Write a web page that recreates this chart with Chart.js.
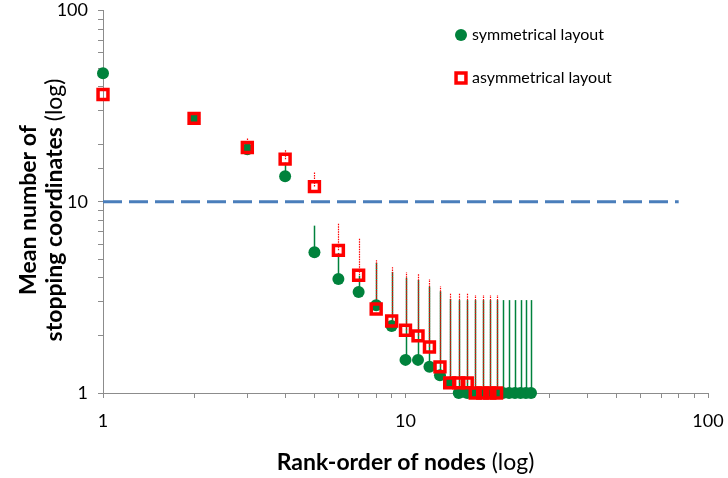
<!DOCTYPE html>
<html>
<head>
<meta charset="utf-8">
<script src="https://cdn.jsdelivr.net/npm/chart.js@4.4.1/dist/chart.umd.min.js"></script>
<style>
  html, body { margin: 0; padding: 0; background: #fff; }
  #c { display: block; }
</style>
</head>
<body>
<canvas id="c" width="728" height="478"></canvas>
<script>
/* ── ข้อมูลที่อ่านจากภาพ ── */
const symRanks = [1, 2, 3, 4, 5, 6, 7, 8, 9, 10, 11, 12, 13, 14, 15, 16, 17, 18, 19, 20, 21, 22, 23, 24, 25, 26];
const symMeans = [47, 27.3, 18.8, 13.6, 5.45, 3.94, 3.37, 2.88, 2.24, 1.49, 1.49, 1.37, 1.24, 1.13, 1, 1, 1, 1, 1, 1, 1, 1, 1, 1, 1, 1];
const symUpper = [47, 27.3, 19.3, 16, 7.5, 5.4, 4.1, 4.8, 4.3, 4.0, 3.9, 3.6, 3.4, 3.1, 3.06, 3.06, 3.06, 3.06, 3.06, 3.06, 3.06, 3.06, 3.06, 3.06, 3.06, 3.06];

const asymRanks = [1, 2, 3, 4, 5, 6, 7, 8, 9, 10, 11, 12, 13, 14, 15, 16, 17, 18, 19, 20];
const asymMeans = [36.4, 27.3, 19.2, 16.7, 12.0, 5.57, 4.13, 2.75, 2.38, 2.13, 1.99, 1.74, 1.37, 1.13, 1.13, 1.13, 1, 1, 1, 1];
const asymUpper = [36.4, 28, 21.5, 18.8, 14.3, 7.7, 6.4, 4.95, 4.55, 4.28, 4.18, 3.94, 3.62, 3.33, 3.33, 3.33, 3.25, 3.25, 3.25, 3.25];

const thresholdValue = 10;
const thresholdRange = [1, 80];

const seriesNames = ['symmetrical layout', 'asymmetrical layout'];
const xTitle = ['Rank-order of nodes', ' (log)'];
const yTitle = [['Mean number of'], ['stopping coordinates', ' (log)']];

(function () {

  const GREEN = '#00823C';
  const RED = '#FF0000';
  const AXIS = '#8C8C8C';
  const FONT = 'Lato, "Open Sans", sans-serif';

  function pts(xs, ys) {
    return xs.map(function (x, i) { return { x: x, y: ys[i] }; });
  }

  /* ── error bar ด้านบน (plus only) ── */
  const errorBars = {
    id: 'errorBars',
    beforeDatasetsDraw: function (chart) {
      const ctx = chart.ctx, xs = chart.scales.x, ys = chart.scales.y;
      function bars(xv, lo, hi, color, width, dash) {
        ctx.save();
        ctx.strokeStyle = color;
        ctx.lineWidth = width;
        ctx.setLineDash(dash);
        xv.forEach(function (r, i) {
          if (hi[i] <= lo[i]) return;
          const px = Math.round(xs.getPixelForValue(r)) + 0.5;
          ctx.beginPath();
          ctx.moveTo(px, ys.getPixelForValue(lo[i]));
          ctx.lineTo(px, ys.getPixelForValue(hi[i]));
          ctx.stroke();
        });
        ctx.restore();
      }
      bars(symRanks, symMeans, symUpper, GREEN, 1.5, []);
      bars(asymRanks, asymMeans, asymUpper, RED, 1.2, [1.5, 1]);
    }
  };

  function mixed(ctx, parts, cx, cy, size) {
    const fonts = parts.map(function (p, i) { return (i === 0 ? 'bold ' : '') + size + 'px ' + FONT; });
    let total = 0;
    const widths = parts.map(function (p, i) { ctx.font = fonts[i]; const w = ctx.measureText(p).width; total += w; return w; });
    let x = cx - total / 2;
    ctx.textBaseline = 'middle';
    ctx.textAlign = 'left';
    parts.forEach(function (p, i) { ctx.font = fonts[i]; ctx.fillText(p, x, cy); x += widths[i]; });
  }

  /* ── ชื่อแกน + legend ── */
  const decorations = {
    id: 'decorations',
    afterDraw: function (chart) {
      const ctx = chart.ctx, a = chart.chartArea;
      ctx.save();
      ctx.fillStyle = '#000';
      mixed(ctx, xTitle, (a.left + a.right) / 2, 463, 23);
      ctx.save();
      ctx.translate(0, 210);
      ctx.rotate(-Math.PI / 2);
      mixed(ctx, yTitle[0], 0, 29, 23);
      mixed(ctx, yTitle[1], 0, 55, 23);
      ctx.restore();

      const items = [
        { name: seriesNames[0], style: 'circle', r: 6, bg: GREEN, bc: GREEN, bw: 0, y: 35 },
        { name: seriesNames[1], style: 'rect', r: 7, bg: 'rgba(0,0,0,0)', bc: RED, bw: 3.5, y: 78 }
      ];
      items.forEach(function (it) {
        ctx.fillStyle = it.bg;
        ctx.strokeStyle = it.bc;
        ctx.lineWidth = it.bw;
        Chart.helpers.drawPoint(ctx, { pointStyle: it.style, radius: it.r, borderWidth: it.bw, rotation: 0 }, 461, it.y);
        ctx.fillStyle = '#000';
        ctx.font = '16px ' + FONT;
        ctx.textAlign = 'left';
        ctx.textBaseline = 'middle';
        ctx.fillText(it.name, 472, it.y);
      });
      ctx.restore();
    }
  };

  function logLabel(v) {
    const e = Math.log10(v);
    return Math.abs(e - Math.round(e)) < 1e-9 ? String(v) : '';
  }

  const axisCommon = {
    type: 'logarithmic',
    min: 1,
    max: 100,
    grid: { drawOnChartArea: false, drawTicks: true, tickLength: 5, color: AXIS },
    border: { color: AXIS, width: 1 },
    title: { display: false }
  };

  new Chart(document.getElementById('c').getContext('2d'), {
    type: 'scatter',
    data: {
      datasets: [
        {
          label: seriesNames[1],
          data: pts(asymRanks, asymMeans),
          pointStyle: 'rect',
          pointRadius: 7,
          pointBorderWidth: 3.5,
          pointBorderColor: RED,
          pointBackgroundColor: 'rgba(0,0,0,0)',
          order: 0,
          clip: false
        },
        {
          label: seriesNames[0],
          data: pts(symRanks, symMeans),
          pointStyle: 'circle',
          pointRadius: 6,
          pointBorderWidth: 0,
          pointBackgroundColor: GREEN,
          pointBorderColor: GREEN,
          order: 1,
          clip: false
        },
        {
          type: 'line',
          label: 'threshold',
          data: [{ x: thresholdRange[0], y: thresholdValue }, { x: thresholdRange[1], y: thresholdValue }],
          borderColor: '#4A7EBB',
          borderWidth: 3,
          borderDash: [19, 7],
          pointRadius: 0,
          order: 2
        }
      ]
    },
    options: {
      responsive: false,
      animation: false,
      devicePixelRatio: 1,
      layout: { padding: { left: 0, right: 0, top: 0, bottom: 0 } },
      plugins: { legend: { display: false }, tooltip: { enabled: false } },
      scales: {
        x: Object.assign({}, axisCommon, {
          position: 'bottom',
          ticks: { autoSkip: false, maxRotation: 0, padding: 12, color: '#000', font: { family: FONT, size: 18 }, callback: logLabel },
          afterFit: function (s) { s.height = 85; s.paddingRight = 20; }
        }),
        y: Object.assign({}, axisCommon, {
          position: 'left',
          ticks: { autoSkip: false, padding: 10, color: '#000', font: { family: FONT, size: 18 }, callback: logLabel },
          afterFit: function (s) { s.width = 103; s.paddingTop = 10; }
        })
      }
    },
    plugins: [errorBars, decorations]
  });

})();
</script>
</body>
</html>
